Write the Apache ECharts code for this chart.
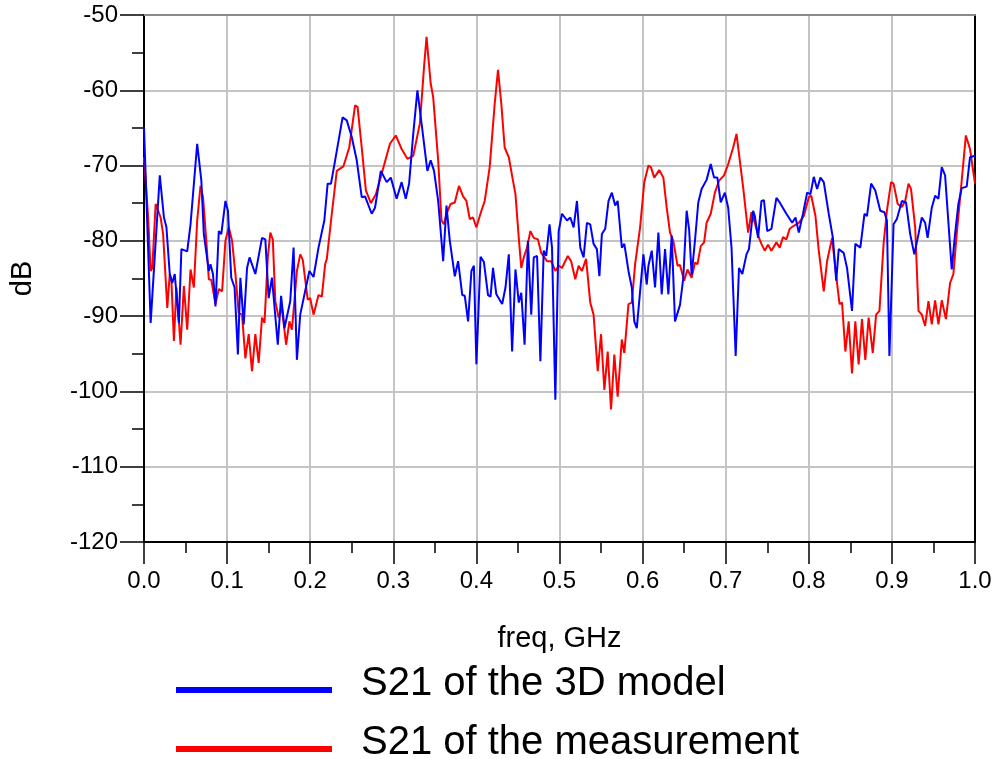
<!DOCTYPE html>
<html>
<head>
<meta charset="utf-8">
<style>
  html, body { margin: 0; padding: 0; background: #ffffff; }
  #chart { width: 998px; height: 759px; }
</style>
<script src="https://cdn.jsdelivr.net/npm/echarts@6/dist/echarts.min.js"></script>
</head>
<body>
<div id="chart"></div>
<script>
// Frequency axis ticks (GHz) and magnitude axis ticks (dB)
const freqTicks = [0.0, 0.1, 0.2, 0.3, 0.4, 0.5, 0.6, 0.7, 0.8, 0.9, 1.0];
const dbTicks = [-120, -110, -100, -90, -80, -70, -60, -50];

// S21 of the 3D model
const modelFreq = [
  0.000, 0.008, 0.019, 0.024, 0.027, 0.031, 0.034, 0.037, 0.042, 0.045,
  0.052, 0.056, 0.064, 0.069, 0.072, 0.078, 0.080, 0.083, 0.086, 0.090,
  0.093, 0.098, 0.101, 0.105, 0.109, 0.113, 0.116, 0.120, 0.124, 0.127,
  0.134, 0.142, 0.146, 0.150, 0.154, 0.161, 0.165, 0.169, 0.176, 0.180,
  0.184, 0.188, 0.199, 0.204, 0.210, 0.217, 0.221, 0.225, 0.230, 0.239,
  0.244, 0.250, 0.256, 0.262, 0.266, 0.274, 0.278, 0.285, 0.292, 0.297,
  0.304, 0.310, 0.315, 0.319, 0.324, 0.329, 0.334, 0.341, 0.345, 0.349,
  0.354, 0.360, 0.364, 0.368, 0.374, 0.378, 0.383, 0.386, 0.390, 0.394,
  0.397, 0.400, 0.405, 0.409, 0.414, 0.417, 0.420, 0.424, 0.431, 0.435,
  0.439, 0.443, 0.447, 0.451, 0.454, 0.458, 0.462, 0.466, 0.469, 0.473,
  0.477, 0.481, 0.484, 0.488, 0.491, 0.495, 0.499, 0.503, 0.509, 0.513,
  0.517, 0.521, 0.525, 0.529, 0.533, 0.537, 0.541, 0.545, 0.548, 0.551,
  0.555, 0.559, 0.563, 0.567, 0.570, 0.575, 0.578, 0.583, 0.587, 0.590,
  0.593, 0.597, 0.601, 0.605, 0.607, 0.611, 0.615, 0.619, 0.623, 0.627,
  0.631, 0.635, 0.639, 0.645, 0.649, 0.653, 0.656, 0.659, 0.663, 0.667,
  0.671, 0.677, 0.682, 0.686, 0.690, 0.694, 0.699, 0.703, 0.707, 0.712,
  0.716, 0.720, 0.725, 0.728, 0.733, 0.735, 0.739, 0.743, 0.746, 0.750,
  0.755, 0.761, 0.765, 0.773, 0.780, 0.784, 0.788, 0.793, 0.798, 0.802,
  0.806, 0.810, 0.814, 0.818, 0.824, 0.829, 0.833, 0.836, 0.838, 0.842,
  0.846, 0.852, 0.856, 0.862, 0.867, 0.870, 0.875, 0.880, 0.886, 0.891,
  0.894, 0.897, 0.902, 0.906, 0.912, 0.917, 0.922, 0.927, 0.932, 0.936,
  0.940, 0.943, 0.948, 0.952, 0.956, 0.960, 0.964, 0.972, 0.976, 0.980,
  0.984, 0.990, 0.994, 1.000
];
const modelDb = [
  -64.9, -90.9, -71.3, -76.9, -78.2, -84.4, -85.6, -84.4, -90.9, -81.1,
  -81.4, -77.8, -67.1, -72.0, -79.1, -84.0, -83.1, -84.4, -88.7, -78.7,
  -79.1, -74.7, -76.0, -84.9, -86.2, -95.1, -84.9, -91.1, -83.6, -82.2,
  -84.4, -79.6, -79.8, -87.6, -84.9, -93.8, -87.3, -91.6, -88.0, -80.9,
  -95.8, -89.8, -84.0, -84.8, -80.9, -77.3, -72.4, -72.4, -69.3, -63.6,
  -64.0, -66.2, -69.3, -74.2, -74.1, -76.4, -75.6, -70.7, -72.2, -71.6,
  -74.4, -72.2, -74.4, -72.4, -65.8, -60.0, -64.4, -70.7, -69.3, -70.7,
  -74.7, -82.7, -75.3, -80.0, -84.7, -82.7, -87.2, -87.3, -90.7, -84.0,
  -83.3, -96.4, -82.1, -82.8, -87.2, -87.4, -83.6, -87.1, -88.4, -86.2,
  -81.8, -94.7, -83.8, -88.2, -86.9, -93.8, -80.0, -89.8, -82.2, -82.0,
  -96.0, -81.3, -82.0, -77.8, -80.9, -101.1, -78.7, -76.4, -77.3, -76.9,
  -78.2, -74.7, -80.9, -82.2, -77.6, -77.8, -80.4, -81.1, -84.7, -79.1,
  -78.4, -74.7, -73.6, -75.3, -74.7, -80.9, -80.4, -84.0, -86.2, -90.7,
  -91.6, -86.7, -81.8, -85.8, -83.3, -81.3, -86.2, -78.9, -87.1, -81.1,
  -87.1, -79.3, -90.7, -88.5, -84.9, -76.0, -78.5, -84.5, -80.0, -74.9,
  -73.1, -71.9, -69.8, -71.6, -71.6, -74.9, -73.6, -75.6, -80.9, -95.3,
  -83.6, -84.4, -81.8, -81.1, -76.0, -76.7, -79.6, -74.7, -74.6, -78.7,
  -78.4, -74.3, -74.9, -76.4, -77.6, -76.9, -78.9, -76.4, -73.6, -73.8,
  -71.5, -73.1, -71.6, -72.2, -76.4, -79.6, -85.3, -81.1, -81.3, -81.6,
  -83.6, -89.3, -80.4, -80.9, -76.4, -76.7, -72.4, -73.3, -76.0, -76.2,
  -77.3, -95.3, -77.8, -77.1, -74.7, -74.9, -79.1, -81.8, -79.1, -76.9,
  -77.6, -79.6, -75.6, -74.0, -74.4, -70.2, -71.3, -83.8, -79.1, -75.1,
  -73.0, -72.8, -68.9, -68.7
];

// S21 of the measurement
const measFreq = [
  0.000, 0.002, 0.005, 0.008, 0.010, 0.014, 0.016, 0.020, 0.023, 0.028,
  0.031, 0.033, 0.036, 0.039, 0.044, 0.048, 0.052, 0.056, 0.058, 0.060,
  0.064, 0.068, 0.071, 0.075, 0.078, 0.081, 0.086, 0.090, 0.094, 0.098,
  0.102, 0.106, 0.110, 0.114, 0.118, 0.122, 0.126, 0.130, 0.134, 0.138,
  0.142, 0.145, 0.149, 0.152, 0.155, 0.158, 0.162, 0.166, 0.171, 0.175,
  0.178, 0.181, 0.184, 0.188, 0.191, 0.197, 0.200, 0.204, 0.210, 0.214,
  0.218, 0.220, 0.226, 0.232, 0.240, 0.247, 0.254, 0.257, 0.262, 0.267,
  0.273, 0.279, 0.286, 0.296, 0.303, 0.310, 0.317, 0.324, 0.332, 0.337,
  0.340, 0.342, 0.345, 0.348, 0.354, 0.358, 0.361, 0.364, 0.369, 0.374,
  0.379, 0.384, 0.388, 0.392, 0.396, 0.400, 0.406, 0.410, 0.416, 0.422,
  0.426, 0.430, 0.434, 0.439, 0.444, 0.447, 0.451, 0.454, 0.457, 0.461,
  0.465, 0.469, 0.474, 0.478, 0.485, 0.490, 0.495, 0.499, 0.503, 0.510,
  0.514, 0.519, 0.523, 0.527, 0.532, 0.537, 0.541, 0.546, 0.550, 0.554,
  0.558, 0.562, 0.566, 0.570, 0.575, 0.578, 0.583, 0.587, 0.591, 0.597,
  0.602, 0.607, 0.610, 0.614, 0.620, 0.625, 0.629, 0.633, 0.637, 0.642,
  0.645, 0.650, 0.654, 0.659, 0.663, 0.666, 0.670, 0.674, 0.677, 0.682,
  0.687, 0.692, 0.698, 0.703, 0.709, 0.713, 0.715, 0.721, 0.727, 0.731,
  0.735, 0.739, 0.743, 0.747, 0.751, 0.755, 0.761, 0.765, 0.769, 0.773,
  0.777, 0.782, 0.788, 0.794, 0.800, 0.803, 0.808, 0.812, 0.818, 0.822,
  0.828, 0.834, 0.837, 0.840, 0.844, 0.848, 0.852, 0.856, 0.860, 0.864,
  0.868, 0.872, 0.877, 0.881, 0.885, 0.890, 0.894, 0.899, 0.902, 0.907,
  0.912, 0.916, 0.920, 0.923, 0.928, 0.932, 0.936, 0.940, 0.944, 0.948,
  0.952, 0.956, 0.960, 0.965, 0.970, 0.974, 0.978, 0.984, 0.989, 0.994,
  1.000
];
const measDb = [
  -68.9, -72.0, -76.9, -84.0, -83.6, -75.1, -75.0, -76.9, -79.1, -88.9,
  -84.4, -85.3, -93.3, -86.2, -93.8, -86.0, -91.8, -83.8, -83.6, -86.2,
  -77.3, -72.7, -74.2, -80.0, -85.1, -85.2, -88.4, -86.4, -86.7, -80.0,
  -78.2, -80.0, -84.4, -89.6, -89.8, -95.6, -92.4, -97.3, -92.4, -96.2,
  -90.2, -90.9, -82.2, -78.9, -79.8, -88.0, -90.2, -88.9, -93.8, -90.7,
  -91.8, -88.0, -84.0, -81.8, -82.5, -87.8, -87.6, -89.8, -87.2, -87.4,
  -83.1, -82.4, -76.4, -70.7, -70.1, -67.6, -62.0, -62.2, -67.6, -73.3,
  -75.0, -73.8, -71.1, -67.1, -66.0, -67.8, -69.1, -68.7, -64.4, -56.9,
  -52.9, -52.9, -59.1, -60.9, -69.3, -77.3, -77.8, -76.4, -75.1, -74.9,
  -72.7, -74.1, -74.7, -77.1, -76.9, -78.2, -76.0, -74.7, -70.2, -61.8,
  -57.3, -61.8, -67.6, -68.9, -72.0, -73.8, -79.6, -83.6, -82.2, -80.9,
  -78.7, -79.6, -79.8, -81.6, -82.7, -82.7, -84.0, -83.3, -83.6, -82.0,
  -82.7, -85.1, -83.3, -84.0, -82.4, -88.2, -89.8, -97.3, -92.4, -99.8,
  -94.7, -102.4, -95.1, -100.7, -93.1, -94.9, -88.4, -88.2, -83.1, -78.2,
  -72.2, -70.0, -70.2, -71.6, -70.6, -71.6, -75.6, -78.9, -80.0, -83.3,
  -83.2, -85.3, -83.8, -84.9, -82.9, -83.1, -80.7, -80.2, -77.6, -76.4,
  -73.6, -72.0, -71.3, -69.8, -67.6, -65.8, -66.0, -72.9, -78.9, -76.2,
  -77.6, -79.3, -80.4, -81.3, -80.5, -81.3, -80.2, -80.9, -79.5, -79.8,
  -78.4, -78.0, -77.6, -76.7, -74.2, -74.0, -76.7, -81.3, -86.7, -82.7,
  -79.6, -85.6, -88.4, -88.2, -94.7, -90.7, -97.6, -90.7, -96.4, -90.4,
  -95.8, -90.2, -94.9, -89.8, -89.3, -80.4, -76.0, -72.2, -72.4, -75.1,
  -75.5, -74.7, -72.4, -73.1, -78.2, -89.3, -89.8, -91.3, -88.0, -91.1,
  -87.9, -91.1, -87.9, -90.4, -85.6, -84.4, -79.1, -72.0, -66.0, -67.8,
  -72.4
];

const modelName = 'S21 of the 3D model';
const measName = 'S21 of the measurement';

const pairs = (xs, ys) => xs.map((x, i) => [x, ys[i]]);

const FONT = 'Liberation Sans, Arial, sans-serif';
const chart = echarts.init(document.getElementById('chart'), null, { renderer: 'canvas' });

// Legend swatch: a thick bar sitting a little below the text's centre line
const swatch = 'path://M0,0h0.05v0.05h-0.05z M0,12h156v6h-156z';

const legendCommon = {
  orient: 'vertical',
  left: 176,
  padding: 0,
  icon: swatch,
  symbolKeepAspect: false,
  itemWidth: 156,
  itemHeight: 18,
  selectedMode: false,
  textStyle: {
    fontFamily: FONT, fontSize: 40, color: '#000',
    lineHeight: 44, padding: [0, 0, 0, 24]
  }
};

chart.setOption({
  animation: false,
  backgroundColor: '#ffffff',
  color: ['#0000ff', '#ff0000'],
  grid: { left: 143, right: 23, top: 15, bottom: 217, containLabel: false },
  legend: [
    Object.assign({ top: 662, data: [modelName] }, legendCommon),
    Object.assign({ top: 721, data: [measName] }, legendCommon)
  ],
  xAxis: [{
    type: 'value',
    min: freqTicks[0],
    max: freqTicks[freqTicks.length - 1],
    interval: 0.1,
    name: 'freq, GHz',
    nameLocation: 'middle',
    nameGap: 82,
    nameTextStyle: { fontFamily: FONT, fontSize: 29, color: '#000' },
    axisLine: { onZero: false, lineStyle: { color: '#000', width: 2 } },
    axisTick: { show: true, inside: false, length: 22, lineStyle: { color: '#000', width: 1.5 } },
    minorTick: { show: true, splitNumber: 2, length: 11, lineStyle: { color: '#000', width: 1.5 } },
    axisLabel: {
      margin: 27, fontFamily: FONT, fontSize: 24, color: '#000',
      formatter: v => v.toFixed(1)
    },
    splitLine: { show: true, lineStyle: { color: '#c4c4c4', width: 2 } }
  }, {
    type: 'value', position: 'top',
    min: 0, max: 1,
    axisLine: { onZero: false, lineStyle: { color: '#8a8a8a', width: 2 } },
    axisTick: { show: false }, axisLabel: { show: false }, splitLine: { show: false }
  }],
  yAxis: [{
    type: 'value',
    min: dbTicks[0],
    max: dbTicks[dbTicks.length - 1],
    interval: 10,
    name: 'dB',
    nameLocation: 'middle',
    nameGap: 107,
    nameRotate: 90,
    nameTextStyle: { fontFamily: FONT, fontSize: 29, color: '#000' },
    axisLine: { show: true, onZero: false, lineStyle: { color: '#000', width: 2 } },
    axisTick: { show: true, inside: false, length: 24, lineStyle: { color: '#000', width: 1.5 } },
    minorTick: { show: true, splitNumber: 2, length: 12, lineStyle: { color: '#000', width: 1.5 } },
    axisLabel: { margin: 26, fontFamily: FONT, fontSize: 24, color: '#000' },
    splitLine: { show: true, lineStyle: { color: '#c4c4c4', width: 2 } }
  }, {
    type: 'value', position: 'right',
    min: -120, max: -50,
    axisLine: { show: true, onZero: false, lineStyle: { color: '#000', width: 2 } },
    axisTick: { show: false }, axisLabel: { show: false }, splitLine: { show: false }
  }],
  series: [{
    name: modelName,
    type: 'line',
    data: pairs(modelFreq, modelDb),
    showSymbol: false,
    lineStyle: { color: '#0000ff', width: 2 },
    z: 3
  }, {
    name: measName,
    type: 'line',
    data: pairs(measFreq, measDb),
    showSymbol: false,
    lineStyle: { color: '#ff0000', width: 2 },
    z: 2
  }]
});
</script>
</body>
</html>
